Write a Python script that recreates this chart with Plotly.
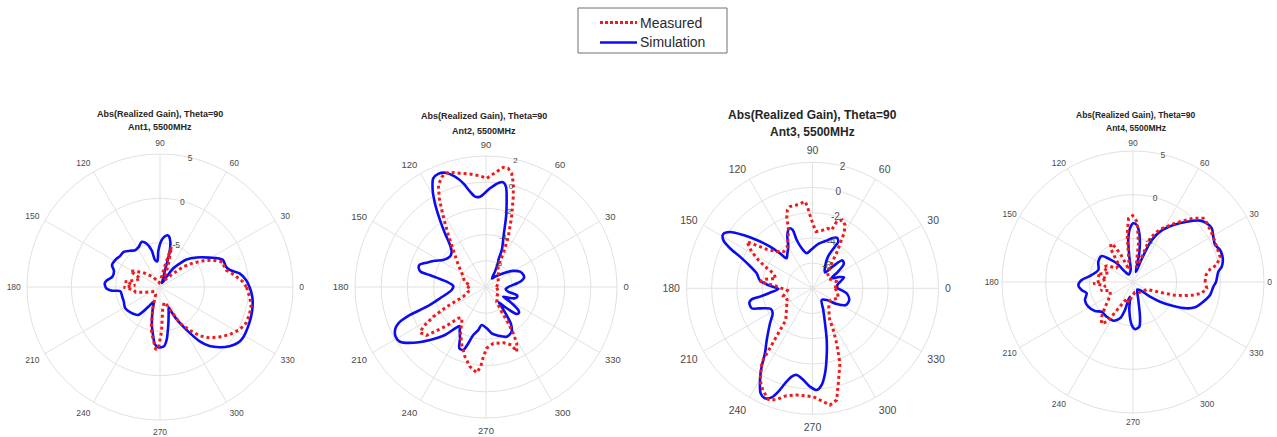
import plotly.graph_objects as go

# ---------------- data: realized gain (dB) vs azimuth (deg), theta = 90 ----------------
ant1_sim_theta = [0, 4.6, 9.7, 13.7, 16.9, 23.6, 30.7, 39, 46, 49.8, 54.6, 57, 62, 70, 73.5, 74.5, 77, 80, 82, 85, 88,
                  92.6, 96, 100.5, 102.7, 107, 112, 118.3, 124, 129.6, 136, 142, 149, 155.5, 160.7, 168, 172.5, 176,
                  181.4, 184.4, 186, 194, 201.8, 211.3, 220.6, 232, 240, 247, 252, 258, 261, 265, 268.4, 273.8, 277.2,
                  283, 289, 293, 295, 297, 299, 303, 306.2, 310, 314.7, 319.5, 324.3, 328.4, 338, 345.1, 352, 356, 360]
ant1_sim_gain = [0.1, -0.26, -0.9, -1.9, -2.2, -2.3, -3.5, -4.7, -5.7, -6.5, -7.4, -8.6, -9.5, -9.0, -8.0, -6.1, -4.8,
                 -4.2, -4.1, -4.3, -4.7, -5.9, -7.1, -6.9, -5.8, -4.9, -4.5, -4.9, -5.0, -4.7, -4.3, -4.3, -4.1, -4.05,
                 -4.5, -4.5, -4.0, -3.75, -3.95, -4.6, -5.5, -5.6, -5.6, -5.4, -5.6, -6.0, -7.5, -8.2, -7.3, -5.6,
                 -4.75, -3.5, -3.2, -3.3, -4.0, -5.8, -7.0, -7.5, -6.8, -6.0, -5.3, -3.8, -2.4, -1.3, -0.45, 0.3, 0.8,
                 0.96, 0.86, 0.74, 0.55, 0.35, 0.1]
ant1_meas_theta = [0, 3.7, 9.1, 14.3, 18, 21.8, 26.9, 31.3, 36, 41, 45.8, 55, 65, 70, 74, 77, 85, 100, 125, 140, 151.5,
                   157, 164, 171.4, 176, 180.5, 186, 192, 200, 220, 240, 252, 258, 262.6, 266.3, 269, 272, 277, 285,
                   291, 294, 297, 299, 304.5, 309.2, 314.3, 320, 325.6, 331.7, 337.3, 342.7, 347.9, 352.9, 360]
ant1_meas_gain = [-0.25, -0.65, -1.5, -2.3, -2.4, -2.4, -3.3, -4.3, -5.4, -6.5, -7.9, -9.0, -8.6, -7.2, -5.3, -7.5,
                  -9.2, -9.5, -8.6, -7.4, -6.2, -7.6, -7.2, -6.0, -7.2, -5.9, -7.0, -7.2, -8.3, -9.2, -9.0, -7.3, -5.2,
                  -4.0, -2.9, -3.4, -5.0, -7.5, -8.2, -7.8, -7.2, -6.3, -5.35, -4.07, -2.9, -1.98, -1.23, -0.5, 0.17,
                  0.52, 0.56, 0.5, 0.23, -0.25]

ant2_sim_theta = [0, 6.9, 10, 14, 17.8, 24.2, 30.8, 38.4, 48.8, 55, 60, 64, 65.5, 67, 71.5, 74.1, 76.6, 78.7, 80.6,
                  83.2, 87.7, 93.8, 96.9, 99.5, 102.3, 105.7, 109.7, 112.9, 115.9, 118.8, 121.4, 124.5, 127.4, 130.6,
                  134.2, 140, 147.7, 153, 157.7, 161.7, 165, 166.9, 168, 172.3, 178.2, 185, 193.8, 198.4, 200.2,
                  202.5, 205, 208.8, 212.5, 217.5, 223.4, 229.5, 233, 236, 239, 243.1, 246.5, 250.2, 252.1, 255.2,
                  259.8, 263.5, 271, 277, 284.2, 292.6, 299.9, 304, 306, 308, 310, 314, 318.7, 322, 324.5, 328.5,
                  330.8, 335, 338.7, 343, 345.4, 348, 354, 360]
ant2_sim_gain = [-6.3, -5.6, -5.24, -5.0, -5.0, -5.15, -5.6, -6.3, -6.95, -7.2, -6.6, -5.9, -5.7, -4.9, -3.7, -2.4,
                 -1.2, -0.2, 0.1, 0.0, -0.46, -1.09, -1.05, -0.62, 0.1, 0.75, 1.27, 1.37, 1.22, 0.45, -0.52, -1.8,
                 -2.85, -3.78, -4.24, -4.4, -4.14, -3.6, -3.1, -2.64, -2.7, -2.9, -3.6, -4.97, -5.5, -5.37, -4.38,
                 -3.23, -1.82, -0.76, -0.35, -0.13, -0.22, -1.0, -2.11, -3.18, -4.0, -4.4, -4.1, -3.61, -2.9, -2.89,
                 -3.35, -4.21, -4.66, -5.08, -4.85, -4.44, -4.17, -3.89, -4.07, -4.6, -5.3, -6.0, -6.5, -5.8, -4.88,
                 -4.8, -4.97, -5.85, -6.49, -6.0, -5.63, -5.5, -5.58, -6.26, -6.5, -6.3]
ant2_meas_theta = [0, 20, 40, 50, 57, 60.8, 62.8, 66.1, 70, 73.2, 75.2, 77.3, 79.4, 81.8, 84, 87.1, 89.6, 93.1, 98.1,
                   102.9, 107.4, 109.8, 112, 115, 117.8, 121.3, 125.9, 131.5, 141.5, 155.6, 166, 175, 185, 195, 203,
                   206.6, 209.4, 212.3, 214.7, 219.2, 221.5, 224.5, 228.5, 232, 236, 240, 247.3, 253.2, 258.6, 263.8,
                   266.2, 267.8, 270.6, 277.4, 287.3, 293.9, 295.4, 298.6, 300.5, 301.6, 302.4, 306, 320, 340, 360]
ant2_meas_gain = [-7.2, -7.0, -6.8, -6.5, -6.3, -6.08, -5.1, -3.8, -2.28, -0.8, 0.18, 0.9, 1.21, 1.23, 0.93, 0.56,
                  0.3, 0.49, 0.71, 0.9, 1.18, 1.22, 1.03, 0.6, -0.35, -1.72, -3.1, -4.23, -5.3, -6.1, -6.3, -6.8,
                  -6.5, -6.6, -6.1, -4.64, -3.38, -2.34, -1.87, -2.16, -2.97, -3.79, -4.81, -5.0, -4.7, -4.1, -3.2,
                  -2.44, -1.8, -1.42, -1.9, -2.67, -3.32, -3.66, -3.55, -3.16, -2.53, -3.1, -3.9, -4.75, -5.77, -6.6,
                  -6.9, -7.0, -7.2]

ant3_sim_theta = [0, 8, 14, 19, 23, 28, 33, 38, 43, 47, 52, 60, 64, 62, 61, 64, 68, 73.4, 82.5, 91.2, 99.4, 105.1,
                  108.1, 108.8, 111.1, 115.3, 120.1, 126, 130.7, 132.9, 135.5, 139.1, 142.4, 145.7, 148.7, 151.6,
                  154.1, 156.4, 160.4, 165, 171.7, 176, 181, 186, 189, 190.3, 192.8, 198.2, 200.9, 206, 212.1, 219.5,
                  228.5, 233.8, 237, 240.2, 243.7, 246.6, 249.5, 251.7, 253.9, 256.7, 259.7, 264.3, 268.5, 272.4,
                  275.4, 278.4, 281.7, 285.4, 289.7, 296.4, 308.2, 320.5, 327, 333.5, 342.4, 351.7, 356.5, 360]
ant3_sim_gain = [-6.0, -6.0, -5.7, -5.35, -5.7, -6.3, -5.6, -4.85, -4.75, -5.6, -6.4, -6.0, -5.2, -4.3, -3.8, -3.55,
                 -3.7, -4.05, -4.45, -4.9, -5.18, -4.71, -3.97, -3.11, -2.9, -3.32, -4.17, -4.6, -4.86, -4.21, -3.28,
                 -2.14, -1.07, -0.07, 0.29, 0.05, -0.72, -1.72, -2.73, -3.41, -3.79, -4.5, -5.3, -4.6, -3.78, -3.09,
                 -2.86, -2.92, -3.54, -4.3, -4.27, -3.63, -2.52, -1.61, -0.59, 0.38, 1.29, 1.51, 1.24, 0.63, -0.15,
                 -0.8, -1.01, -0.69, -0.19, 0.08, -0.29, -1.18, -2.46, -3.75, -5.05, -6.08, -6.82, -6.54, -5.71,
                 -5.03, -4.94, -5.26, -5.7, -6.0]
ant3_meas_theta = [0, 15, 30, 45, 52, 56, 60.2, 62.8, 66.4, 70.1, 71.8, 76.1, 80.9, 86.5, 89.3, 92, 93.6, 94.9, 100.8,
                   105.4, 107.8, 110.2, 111.4, 116, 122, 128, 134.3, 139.6, 144.6, 148.9, 152.4, 155.4, 159, 165, 169,
                   172.8, 176, 185, 195, 204, 215.5, 230, 235.6, 240.2, 244, 248.4, 252, 256, 261.6, 270.4, 275,
                   278.5, 282.2, 285.2, 290.1, 293.7, 296.5, 299, 310, 325, 340, 350, 360]
ant3_meas_gain = [-6.2, -6.0, -6.5, -6.3, -5.6, -4.5, -2.97, -2.35, -2.09, -2.37, -3.13, -3.1, -3.36, -3.49, -2.97,
                  -2.18, -1.5, -1.09, -1.27, -1.28, -1.47, -2.08, -2.74, -3.6, -4.2, -4.3, -3.93, -3.22, -1.6, -2.36,
                  -3.15, -3.86, -4.67, -5.0, -4.2, -3.8, -5.0, -6.0, -5.6, -5.8, -5.48, -4.7, -0.9, 0.39, 1.0, 1.5,
                  1.3, 0.8, 0.56, 0.6, 1.0, 1.37, 1.07, -0.19, -1.66, -3.23, -4.3, -5.2, -6.0, -6.3, -5.8, -6.0, -6.2]

ant4_sim_theta = [0, 6.9, 9.8, 14.8, 20.2, 24.3, 29.4, 34.3, 38.5, 42.5, 48.3, 54.7, 61.8, 66, 69, 72, 75, 78, 82.6,
                  86.3, 89.7, 93.2, 96.4, 98.3, 101, 120, 127.8, 131, 135.4, 140.3, 149.7, 160.9, 172, 177.8, 183.1,
                  188.9, 193.7, 200.6, 208.9, 217.3, 223.5, 232.8, 243, 250.3, 254, 255.4, 258.5, 262.5, 268.3, 272.4,
                  278, 281.4, 286.5, 300, 311, 319.2, 323.9, 329.2, 333.9, 337.8, 344.3, 350.4, 356.7, 360]
ant4_sim_gain = [-0.5, -0.16, 0.31, 0.63, 0.62, 0.31, 0.56, 0.92, 0.79, 0.4, -0.75, -2.0, -3.46, -4.8, -7.0, -8.6,
                 -8.8, -6.5, -4.38, -3.46, -3.28, -3.84, -5.15, -7.07, -8.6, -9.0, -8.5, -7.16, -6.3, -5.34, -5.4,
                 -5.8, -5.03, -4.12, -3.73, -4.05, -4.54, -4.12, -4.15, -4.52, -5.05, -5.01, -5.03, -5.58, -6.67,
                 -7.87, -8.28, -6.77, -5.07, -4.6, -4.83, -5.95, -7.85, -9.0, -8.8, -7.42, -6.17, -4.63, -3.15, -2.33,
                 -1.64, -1.05, -0.78, -0.5]
ant4_meas_theta = [0, 5.5, 9.4, 11.5, 16.2, 26.2, 31.7, 38.8, 42.2, 46.6, 50.6, 55.2, 62.9, 68.7, 72, 78, 82, 86,
                   90.3, 94, 97, 101, 108, 114, 118, 120.4, 124, 130, 140, 148, 153, 160, 165, 169, 173, 177, 182,
                   188, 195, 200, 210, 220, 227, 232.8, 237, 242, 250, 258, 265, 280, 300, 320, 332, 339.1, 342.1,
                   344.8, 347.8, 350.7, 355.1, 360]
ant4_meas_gain = [-1.75, -1.6, -1.06, -0.22, 0.38, 0.47, 0.6, 0.84, 0.87, 0.05, -0.92, -1.91, -3.22, -4.63, -7.5,
                  -8.3, -5.5, -3.1, -2.4, -2.7, -4.5, -7.5, -8.5, -6.5, -5.2, -4.95, -5.5, -7.5, -7.5, -6.5, -6.2,
                  -7.0, -6.3, -5.8, -7.0, -6.5, -5.45, -6.8, -6.2, -7.2, -7.0, -6.0, -4.8, -4.0, -4.6, -6.8, -8.0,
                  -7.6, -8.3, -8.8, -8.6, -8.4, -8.2, -6.69, -5.15, -4.03, -2.93, -2.03, -1.52, -1.75]

panel_names = ["Ant1", "Ant2", "Ant3", "Ant4"]
radial_ranges = [[-10, 5], [-8, 2], [-8, 2], [-10, 5]]
radial_ticks = [[-5, 0, 5], [-6, -4, -2, 0, 2], [-6, -4, -2, 0, 2], [-5, 0, 5]]
angle_ticks = list(range(0, 360, 30))

# ---------------- page geometry (pixels) ----------------
W, H = 1277, 437
# centre x, centre y, radius of each polar panel
panels_px = [(160, 287, 133), (486, 287, 131), (812.5, 288.3, 126), (1133, 282, 131)]
title_px = [(160, 114, 127, 9), (484, 116.5, 130.5, 9), (812.5, 115.5, 131.5, 12), (1136, 115, 127.7, 8.5)]
angle_font = [8.5, 9.5, 10.5, 8.5]
angle_pad = [4, 4, 4, 1]
radial_font = [8.5, 8, 10, 8.5]
RADIAL_ANGLE = 80

BLUE = "#0c0cf2"
RED = "#f01a1a"
GRID = "#e1e1e1"
FONT = "Arial, Liberation Sans, sans-serif"

series = [
    (ant1_sim_theta, ant1_sim_gain, ant1_meas_theta, ant1_meas_gain),
    (ant2_sim_theta, ant2_sim_gain, ant2_meas_theta, ant2_meas_gain),
    (ant3_sim_theta, ant3_sim_gain, ant3_meas_theta, ant3_meas_gain),
    (ant4_sim_theta, ant4_sim_gain, ant4_meas_theta, ant4_meas_gain),
]

fig = go.Figure()
layout_polars = {}
annotations = []

for i, (st, sg, mt, mg) in enumerate(series):
    key = "polar" if i == 0 else f"polar{i + 1}"
    fig.add_trace(go.Scatterpolar(theta=st, r=sg, mode="lines", subplot=key, name="Simulation",
                                  line=dict(color=BLUE, width=2.6, shape="spline", smoothing=0.8),
                                  showlegend=False, hoverinfo="skip"))
    fig.add_trace(go.Scatterpolar(theta=mt, r=mg, mode="lines", subplot=key, name="Measured",
                                  line=dict(color=RED, width=3, dash="3px,3px"),
                                  showlegend=False, hoverinfo="skip"))

    cx, cy, R = panels_px[i]
    layout_polars[key] = dict(
        domain=dict(x=[(cx - R) / W, (cx + R) / W], y=[1 - (cy + R) / H, 1 - (cy - R) / H]),
        bgcolor="white",
        angularaxis=dict(rotation=0, direction="counterclockwise", tickmode="array",
                         tickvals=angle_ticks, ticktext=[str(a) for a in angle_ticks],
                         tickfont=dict(size=angle_font[i], color="#4a4a4a", family=FONT),
                         gridcolor=GRID, gridwidth=1, showline=True, linecolor=GRID, linewidth=1,
                         ticks="outside", ticklen=angle_pad[i], tickcolor="rgba(0,0,0,0)"),
        # tick labels are drawn in the rotated axis frame; counter-rotate them to read horizontally
        radialaxis=dict(range=radial_ranges[i], tickmode="array", tickvals=radial_ticks[i],
                        ticktext=[str(v) for v in radial_ticks[i]], angle=RADIAL_ANGLE,
                        tickangle=RADIAL_ANGLE, showline=False,
                        gridcolor=GRID, gridwidth=1, ticks="",
                        tickfont=dict(size=radial_font[i], color="#4a4a4a", family=FONT)),
    )

    tx, ty1, ty2, fs = title_px[i]
    for ty, txt in ((ty1, "Abs(Realized Gain), Theta=90"), (ty2, f"{panel_names[i]}, 5500MHz")):
        annotations.append(dict(x=tx / W, y=1 - ty / H, xref="paper", yref="paper", showarrow=False,
                                xanchor="center", yanchor="middle", text=f"<b>{txt}</b>",
                                font=dict(size=fs, color="#262626", family=FONT)))

# ---------------- legend box ----------------
shapes = [
    dict(type="rect", xref="paper", yref="paper", x0=578 / W, x1=727 / W, y0=1 - 53 / H, y1=1 - 8 / H,
         line=dict(color="#707070", width=1), fillcolor="white"),
    dict(type="line", xref="paper", yref="paper", x0=600 / W, x1=637 / W, y0=1 - 22.5 / H, y1=1 - 22.5 / H,
         line=dict(color=RED, width=3, dash="3px,2px")),
    dict(type="line", xref="paper", yref="paper", x0=600 / W, x1=637 / W, y0=1 - 42.5 / H, y1=1 - 42.5 / H,
         line=dict(color=BLUE, width=2.6)),
]
for ty, txt in ((22.5, "Measured"), (42.5, "Simulation")):
    annotations.append(dict(x=638 / W, y=1 - ty / H, xref="paper", yref="paper", showarrow=False,
                            xanchor="left", yanchor="middle", text=txt,
                            font=dict(size=14, color="#2a2a2a", family=FONT)))

fig.update_layout(width=W, height=H, margin=dict(l=0, r=0, t=0, b=0), paper_bgcolor="white",
                  showlegend=False, annotations=annotations, shapes=shapes, **layout_polars)

fig.write_html("out.html")
